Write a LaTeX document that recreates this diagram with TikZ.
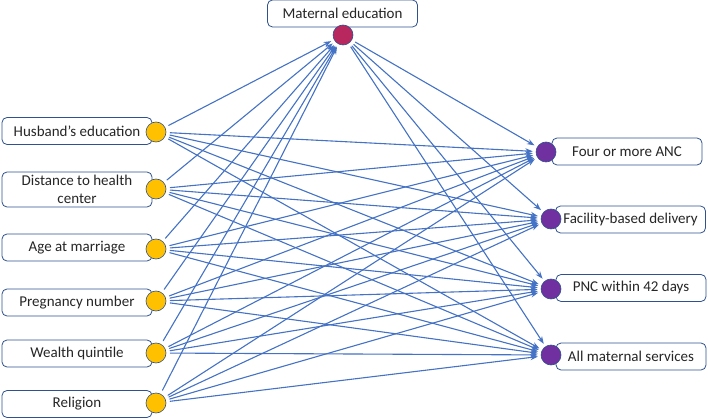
\documentclass[tikz,border=0pt]{standalone}
\usepackage{fontspec}
\setmainfont{Carlito}
\usepackage{xcolor}
\usetikzlibrary{arrows.meta}

\definecolor{linkblue}{HTML}{4472C4}
\definecolor{rimblue}{HTML}{2F528F}
\definecolor{dotgold}{HTML}{FFC000}
\definecolor{dotred}{HTML}{B8275E}
\definecolor{dotpurple}{HTML}{7030A0}

\tikzset{
  labelbox/.style={draw=rimblue,line width=0.8pt,rounded corners=5pt,fill=white,
    minimum width=150pt,minimum height=27pt,inner sep=1pt,align=center,
    text=black!85,font=\fontsize{15}{18}\selectfont},
  dot/.style={circle,draw=rimblue,line width=0.6pt,minimum size=20pt,inner sep=0pt},
  link/.style={-{Stealth[length=7.5pt,width=5.5pt]},draw=linkblue,line width=1.1pt,
    shorten <=4pt,shorten >=3pt}
}

\begin{document}
\begin{tikzpicture}[line cap=round,line join=round,x=1pt,y=-1pt]
			\useasboundingbox (0,0) rectangle (708,419);
			% exposures
			\node[labelbox] (husb) at (77,131) {Husband’s education};
			\node[labelbox,minimum height=35pt] (dist) at (77,189.5) {Distance to health\\center};
			\node[labelbox] (age) at (77,247.5) {Age at marriage};
			\node[labelbox] (preg) at (77,302.5) {Pregnancy number};
			\node[labelbox] (wealth) at (77,353.5) {Wealth quintile};
			\node[labelbox] (rel) at (77,404) {Religion};
			\node[dot,fill=dotgold] (husbdot) at (156,132) {};
			\node[dot,fill=dotgold] (distdot) at (156,189) {};
			\node[dot,fill=dotgold] (agedot) at (156,249) {};
			\node[dot,fill=dotgold] (pregdot) at (156,301) {};
			\node[dot,fill=dotgold] (wealthdot) at (156,353) {};
			\node[dot,fill=dotgold] (reldot) at (156,403) {};
			% mediator
			\node[labelbox] (medu) at (342.5,13.5) {Maternal education};
			\node[dot,fill=dotred] (medudot) at (343,35) {};
			% outcomes
			\node[labelbox] (anc) at (627,151.5) {Four or more ANC};
			\node[labelbox,minimum width=150pt,inner xsep=4pt] (fbd) at (630.5,219.5) {Facility-based delivery};
			\node[labelbox] (pnc) at (631,288) {PNC within 42 days};
			\node[labelbox] (allms) at (631,356.5) {All maternal services};
			\node[dot,fill=dotpurple] (ancdot) at (546,152) {};
			\node[dot,fill=dotpurple] (fbddot) at (551,219) {};
			\node[dot,fill=dotpurple] (pncdot) at (551,289) {};
			\node[dot,fill=dotpurple] (allmsdot) at (551,355) {};
			% arrows into maternal education
			\draw [link] (husbdot) -- (medudot);
			\draw [link] (distdot) -- (medudot);
			\draw [link] (agedot) -- (medudot);
			\draw [link] (pregdot) -- (medudot);
			\draw [link] (wealthdot) -- (medudot);
			\draw [link] (reldot) -- (medudot);
			% arrows from maternal education
			\draw [link] (medudot) -- (ancdot);
			\draw [link] (medudot) -- (fbddot);
			\draw [link] (medudot) -- (pncdot);
			\draw [link] (medudot) -- (allmsdot);
			% direct arrows
			\draw [link] (husbdot) -- (ancdot);
			\draw [link] (husbdot) -- (fbddot);
			\draw [link] (husbdot) -- (pncdot);
			\draw [link] (husbdot) -- (allmsdot);
			\draw [link] (distdot) -- (ancdot);
			\draw [link] (distdot) -- (fbddot);
			\draw [link] (distdot) -- (pncdot);
			\draw [link] (distdot) -- (allmsdot);
			\draw [link] (agedot) -- (ancdot);
			\draw [link] (agedot) -- (fbddot);
			\draw [link] (agedot) -- (pncdot);
			\draw [link] (agedot) -- (allmsdot);
			\draw [link] (pregdot) -- (ancdot);
			\draw [link] (pregdot) -- (fbddot);
			\draw [link] (pregdot) -- (pncdot);
			\draw [link] (pregdot) -- (allmsdot);
			\draw [link] (wealthdot) -- (ancdot);
			\draw [link] (wealthdot) -- (fbddot);
			\draw [link] (wealthdot) -- (pncdot);
			\draw [link] (wealthdot) -- (allmsdot);
			\draw [link] (reldot) -- (ancdot);
			\draw [link] (reldot) -- (fbddot);
			\draw [link] (reldot) -- (pncdot);
			\draw [link] (reldot) -- (allmsdot);
\end{tikzpicture}
\end{document}
